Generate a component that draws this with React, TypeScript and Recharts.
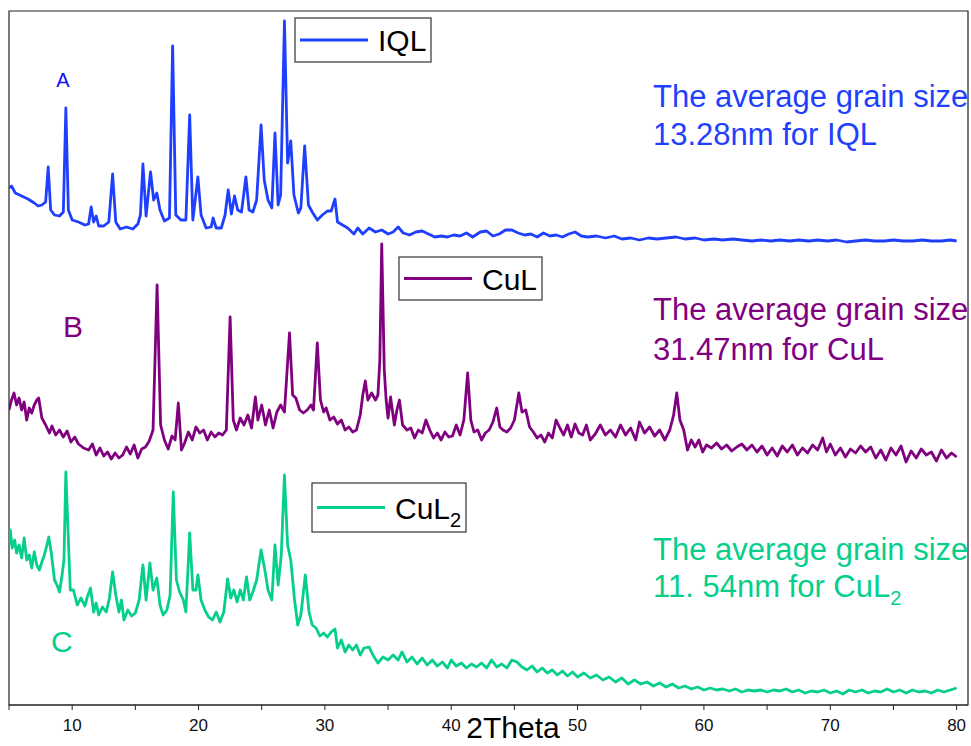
import { LineChart, Line, XAxis, YAxis, ReferenceArea } from "recharts";

// 2Theta ticks (labels only on multiples of 10)
const THETA_TICKS = [5, 10, 15, 20, 25, 30, 35, 40, 45, 50, 55, 60, 65, 70, 75, 80];

// [2theta, stacked intensity (a.u., offset per pattern)]
const IQL: [number, number][] = [
  [5.0, 517], [5.2, 519], [5.5, 512], [6.0, 509], [6.5, 506], [7.0, 502], [7.3, 499], [7.6, 500],
  [7.9, 503], [8.1, 538], [8.3, 495], [8.6, 490], [9.0, 489], [9.3, 493], [9.5, 597], [9.7, 495],
  [10.0, 485], [10.5, 483], [11.0, 480], [11.3, 481], [11.5, 498], [11.7, 483], [11.9, 489], [12.1, 479],
  [12.5, 479], [12.9, 483], [13.2, 531], [13.45, 483], [13.8, 476], [14.3, 478], [14.8, 476], [15.2, 481],
  [15.4, 490], [15.6, 541], [15.85, 489], [16.2, 533], [16.45, 505], [16.7, 512], [16.95, 495], [17.3, 484],
  [17.7, 487], [17.95, 659], [18.2, 490], [18.6, 485], [19.0, 485], [19.3, 590], [19.55, 485], [19.95, 528],
  [20.2, 490], [20.6, 477], [21.0, 478], [21.15, 487], [21.4, 477], [21.8, 477], [22.1, 490], [22.35, 515],
  [22.6, 491], [22.85, 509], [23.1, 495], [23.4, 493], [23.75, 528], [24.0, 495], [24.3, 493], [24.6, 505],
  [24.95, 580], [25.2, 525], [25.5, 505], [25.8, 497], [26.05, 572], [26.3, 500], [26.5, 510], [26.8, 684],
  [27.05, 542], [27.3, 564], [27.55, 510], [27.9, 492], [28.1, 497], [28.4, 559], [28.7, 500], [29.0, 493],
  [29.4, 485], [29.8, 490], [30.2, 494], [30.5, 494], [30.8, 506], [31.0, 483], [31.4, 480], [31.8, 477],
  [32.3, 471], [32.6, 477], [33.0, 471], [33.5, 477], [34.0, 473], [34.5, 475], [35.0, 471], [35.4, 473],
  [35.8, 478], [36.2, 472], [36.7, 470], [37.2, 473], [37.7, 474], [38.2, 471], [38.7, 468], [39.2, 469],
  [39.7, 468], [40.2, 470], [40.7, 469], [41.2, 472], [41.7, 468], [42.3, 473], [42.8, 474], [43.3, 469],
  [43.8, 471], [44.3, 475], [44.8, 475], [45.3, 472], [45.8, 470], [46.3, 471], [46.8, 468], [47.3, 472],
  [47.8, 469], [48.3, 470], [48.8, 468], [49.3, 471], [49.8, 473], [50.3, 469], [50.8, 468], [51.5, 469],
  [52.2, 467], [52.9, 469], [53.5, 466], [54.2, 467], [54.9, 465], [55.6, 467], [56.3, 466], [57.0, 467],
  [57.8, 468], [58.5, 466], [59.3, 467], [60.0, 465], [60.8, 466], [61.5, 465], [62.3, 466], [63.0, 465],
  [63.8, 464], [64.5, 465], [65.3, 464], [66.0, 465], [66.8, 464], [67.5, 465], [68.3, 464], [69.0, 465],
  [69.8, 464], [70.5, 465], [71.3, 463], [72.0, 464], [72.8, 465], [73.5, 464], [74.3, 464], [75.0, 465],
  [75.8, 464], [76.5, 464], [77.3, 465], [78.0, 464], [78.8, 464], [79.5, 465], [80.0, 464],
];

const CUL: [number, number][] = [
  [5.0, 295], [5.2, 305], [5.4, 312], [5.6, 300], [5.8, 307], [6.0, 295], [6.2, 303], [6.4, 285],
  [6.6, 297], [6.8, 292], [7.0, 300], [7.2, 305], [7.35, 307], [7.6, 287], [7.9, 280], [8.2, 272],
  [8.4, 279], [8.7, 270], [9.0, 275], [9.3, 268], [9.6, 274], [9.9, 263], [10.2, 268], [10.5, 261],
  [10.9, 257], [11.3, 255], [11.6, 261], [11.9, 250], [12.2, 257], [12.5, 249], [12.8, 253], [13.1, 246],
  [13.4, 252], [13.7, 247], [14.0, 250], [14.3, 258], [14.6, 251], [14.9, 260], [15.2, 247], [15.5, 256],
  [15.8, 258], [16.1, 264], [16.4, 275], [16.72, 420], [17.0, 280], [17.3, 265], [17.6, 256], [17.9, 269],
  [18.15, 265], [18.4, 302], [18.65, 255], [18.9, 262], [19.2, 273], [19.5, 265], [19.8, 278], [20.1, 272],
  [20.4, 275], [20.7, 265], [21.0, 273], [21.3, 268], [21.6, 272], [21.9, 270], [22.2, 275], [22.5, 388],
  [22.75, 285], [23.0, 275], [23.3, 287], [23.6, 280], [23.9, 290], [24.2, 277], [24.5, 308], [24.7, 285],
  [25.0, 300], [25.3, 280], [25.6, 295], [25.9, 277], [26.2, 293], [26.5, 300], [26.8, 293], [27.2, 372],
  [27.45, 310], [27.7, 307], [28.0, 295], [28.3, 292], [28.6, 295], [28.9, 300], [29.1, 295], [29.4, 362],
  [29.65, 305], [29.9, 293], [30.1, 297], [30.4, 285], [30.7, 288], [31.0, 281], [31.3, 285], [31.6, 275],
  [31.9, 278], [32.2, 273], [32.5, 275], [32.8, 290], [33.0, 310], [33.2, 324], [33.4, 305], [33.7, 312],
  [34.0, 305], [34.2, 310], [34.35, 345], [34.5, 461], [34.7, 335], [34.85, 305], [35.0, 287], [35.2, 308],
  [35.5, 280], [35.7, 295], [35.9, 305], [36.15, 280], [36.5, 275], [36.8, 277], [37.1, 267], [37.4, 275],
  [37.7, 272], [38.0, 285], [38.3, 275], [38.6, 267], [38.9, 272], [39.2, 265], [39.5, 273], [39.8, 268],
  [40.1, 269], [40.4, 280], [40.7, 270], [41.0, 285], [41.3, 332], [41.55, 285], [41.8, 273], [42.1, 275],
  [42.4, 265], [42.7, 272], [43.0, 275], [43.3, 283], [43.6, 297], [43.85, 278], [44.1, 275], [44.4, 273],
  [44.7, 277], [45.0, 285], [45.35, 312], [45.6, 293], [45.9, 295], [46.2, 278], [46.5, 273], [46.8, 267],
  [47.1, 270], [47.4, 263], [47.7, 272], [48.0, 267], [48.3, 285], [48.6, 277], [48.9, 270], [49.2, 280],
  [49.5, 268], [49.8, 281], [50.1, 272], [50.4, 270], [50.7, 280], [51.0, 265], [51.4, 271], [51.8, 280],
  [52.2, 270], [52.6, 275], [53.0, 268], [53.4, 280], [53.8, 270], [54.2, 277], [54.6, 265], [54.9, 283],
  [55.3, 272], [55.7, 278], [56.1, 269], [56.5, 275], [56.9, 265], [57.3, 275], [57.6, 290], [57.85, 312],
  [58.1, 285], [58.4, 275], [58.7, 255], [59.0, 265], [59.3, 258], [59.6, 265], [59.9, 253], [60.2, 260],
  [60.6, 257], [61.0, 262], [61.4, 256], [61.8, 260], [62.2, 254], [62.6, 258], [63.0, 261], [63.4, 255],
  [63.8, 260], [64.2, 253], [64.6, 259], [65.0, 250], [65.4, 257], [65.8, 249], [66.2, 259], [66.6, 253],
  [67.0, 260], [67.4, 250], [67.8, 257], [68.2, 252], [68.6, 260], [69.0, 255], [69.4, 267], [69.7, 253],
  [70.0, 261], [70.4, 250], [70.8, 257], [71.2, 248], [71.6, 256], [72.0, 252], [72.4, 259], [72.8, 253],
  [73.2, 258], [73.6, 247], [74.0, 255], [74.4, 245], [74.8, 257], [75.2, 250], [75.6, 259], [76.0, 243],
  [76.4, 254], [76.8, 247], [77.2, 256], [77.6, 250], [78.0, 253], [78.4, 244], [78.8, 255], [79.2, 247],
  [79.6, 252], [80.0, 248],
];

const CUL2: [number, number][] = [
  [5.0, 160], [5.1, 175], [5.25, 157], [5.45, 165], [5.6, 152], [5.8, 160], [6.0, 147], [6.2, 167],
  [6.4, 145], [6.6, 150], [6.8, 137], [7.0, 153], [7.2, 140], [7.4, 135], [7.6, 143], [7.8, 150],
  [8.0, 160], [8.15, 168], [8.35, 152], [8.6, 125], [8.8, 120], [9.0, 113], [9.2, 130], [9.35, 145],
  [9.5, 233], [9.7, 165], [9.85, 115], [10.1, 115], [10.4, 100], [10.7, 107], [11.0, 99], [11.2, 108],
  [11.45, 117], [11.7, 93], [11.9, 102], [12.1, 90], [12.4, 98], [12.7, 93], [12.95, 107], [13.2, 133],
  [13.45, 110], [13.7, 93], [13.9, 105], [14.1, 85], [14.4, 95], [14.7, 89], [15.0, 92], [15.3, 105],
  [15.6, 140], [15.85, 105], [16.15, 142], [16.4, 115], [16.7, 127], [16.95, 100], [17.2, 90], [17.5, 95],
  [17.75, 110], [18.0, 213], [18.25, 125], [18.5, 113], [18.8, 105], [19.0, 93], [19.3, 172], [19.55, 115],
  [19.8, 115], [19.95, 130], [20.2, 105], [20.5, 95], [20.8, 88], [21.1, 85], [21.4, 93], [21.7, 83],
  [22.0, 93], [22.3, 126], [22.55, 107], [22.8, 115], [23.05, 103], [23.3, 115], [23.55, 105], [23.8, 128],
  [24.05, 105], [24.3, 113], [24.6, 125], [24.95, 155], [25.25, 135], [25.5, 115], [25.8, 105], [26.05, 160],
  [26.3, 120], [26.55, 150], [26.8, 230], [27.05, 160], [27.3, 145], [27.6, 105], [27.85, 80], [28.1, 90],
  [28.45, 130], [28.75, 93], [29.0, 80], [29.3, 77], [29.6, 69], [29.9, 72], [30.2, 68], [30.5, 73],
  [30.8, 76], [31.0, 57], [31.3, 65], [31.6, 53], [31.9, 60], [32.2, 55], [32.5, 60], [32.8, 50],
  [33.1, 57], [33.5, 58], [33.8, 50], [34.2, 42], [34.6, 48], [35.0, 45], [35.4, 50], [35.8, 45],
  [36.1, 53], [36.5, 43], [36.9, 48], [37.3, 41], [37.7, 47], [38.1, 40], [38.5, 45], [38.9, 39],
  [39.3, 43], [39.7, 37], [40.0, 45], [40.4, 39], [40.8, 42], [41.2, 37], [41.6, 41], [42.0, 38],
  [42.4, 42], [42.8, 37], [43.2, 45], [43.6, 38], [44.0, 41], [44.4, 37], [44.8, 45], [45.2, 43],
  [45.6, 38], [46.0, 35], [46.4, 39], [46.8, 33], [47.2, 37], [47.6, 32], [48.0, 35], [48.4, 30],
  [48.8, 34], [49.2, 29], [49.6, 33], [50.0, 28], [50.5, 32], [51.0, 27], [51.5, 30], [52.0, 25],
  [52.5, 28], [53.0, 23], [53.5, 27], [54.0, 21], [54.5, 25], [55.0, 21], [55.5, 23], [56.0, 19],
  [56.5, 22], [57.0, 18], [57.5, 21], [58.0, 17], [58.5, 19], [59.0, 16], [59.5, 18], [60.0, 15],
  [60.5, 17], [61.0, 15], [61.5, 16], [62.0, 14], [62.5, 16], [63.0, 13], [63.5, 15], [64.0, 14],
  [64.5, 15], [65.0, 13], [65.5, 15], [66.0, 14], [66.5, 16], [67.0, 13], [67.5, 15], [68.0, 12],
  [68.5, 14], [69.0, 13], [69.5, 15], [70.0, 12], [70.5, 14], [71.0, 11], [71.5, 15], [72.0, 13],
  [72.5, 15], [73.0, 12], [73.5, 14], [74.0, 13], [74.5, 16], [75.0, 13], [75.5, 15], [76.0, 12],
  [76.5, 15], [77.0, 13], [77.5, 14], [78.0, 12], [78.5, 15], [79.0, 13], [79.5, 15], [80.0, 17],
];

const BLUE = "#1f3fff";
const PURPLE = "#800080";
const GREEN = "#05cf8a";
const FONT = '"Liberation Sans", Arial, sans-serif';

const SERIES = [
  { name: "IQL", color: BLUE, points: IQL },
  { name: "CuL", color: PURPLE, points: CUL },
  { name: "CuL2", color: GREEN, points: CUL2 },
];

function ThetaTick({ x, y, payload }: any) {
  if (payload.value % 10 !== 0) return <g />;
  return (
    <text x={x} y={y} dy={19} textAnchor="middle" fontSize={17} fill="#111" fontFamily={FONT}>
      {payload.value}
    </text>
  );
}

function LegendBox({ x, y, w, h, color, children }: any) {
  return (
    <g>
      <rect x={x} y={y} width={w} height={h} fill="#fff" stroke="#333" strokeWidth={1.2} />
      <line x1={x + 5} x2={x + 73} y1={y + h / 2} y2={y + h / 2} stroke={color} strokeWidth={3} />
      <text x={x + 83} y={y + h / 2 + 11} fontSize={30} fill="#000" fontFamily={FONT}>
        {children}
      </text>
    </g>
  );
}

export default function App() {
  return (
    <div style={{ position: "absolute", left: 0, top: 0, width: 971, height: 746, background: "#fff" }}>
      <LineChart width={971} height={746} margin={{ top: 11, right: 3, bottom: 0, left: 9 }}>
        <XAxis
          dataKey="t"
          type="number"
          domain={[5, 80.9]}
          allowDataOverflow
          ticks={THETA_TICKS}
          tick={<ThetaTick />}
          tickSize={5}
          height={41}
          stroke="#222"
          interval={0}
        />
        <YAxis hide domain={[0, 694]} allowDataOverflow />
        <ReferenceArea x1={5} x2={80.9} y1={0} y2={694} fill="none" stroke="#222" strokeWidth={1.2} />
        {SERIES.map((s) => (
          <Line
            key={s.name}
            data={s.points.map(([t, v]) => ({ t, v }))}
            dataKey="v"
            type="linear"
            stroke={s.color}
            strokeWidth={2.8}
            strokeLinejoin="round"
            dot={false}
            isAnimationActive={false}
          />
        ))}
      </LineChart>
      <svg
        width={971}
        height={746}
        style={{ position: "absolute", left: 0, top: 0, pointerEvents: "none" }}
        fontFamily={FONT}
      >
        <LegendBox x={295} y={18} w={136} h={44} color={BLUE}>IQL</LegendBox>
        <LegendBox x={399} y={257} w={143} h={43} color={PURPLE}>CuL</LegendBox>
        <LegendBox x={312} y={483} w={154} h={49} color={GREEN}>
          CuL<tspan fontSize={20} dy={8}>2</tspan>
        </LegendBox>

        <text x={63} y={87} fontSize={20} fill="#1010f0" textAnchor="middle">A</text>
        <text x={63} y={337} fontSize={30} fill={PURPLE}>B</text>
        <text x={51} y={652} fontSize={30} fill={GREEN}>C</text>

        <text x={653} y={107} fontSize={31} fill={BLUE}>The average grain size</text>
        <text x={653} y={145} fontSize={31} fill={BLUE}>13.28nm for IQL</text>
        <text x={653} y={320} fontSize={31} fill={PURPLE}>The average grain size</text>
        <text x={653} y={360} fontSize={31} fill={PURPLE}>31.47nm for CuL</text>
        <text x={653} y={560} fontSize={31} fill={GREEN}>The average grain size</text>
        <text x={653} y={597} fontSize={31} fill={GREEN}>
          11. 54nm for CuL<tspan fontSize={20} dy={8}>2</tspan>
        </text>

        <text x={513} y={738} fontSize={30} fill="#000" textAnchor="middle">2Theta</text>
      </svg>
    </div>
  );
}
